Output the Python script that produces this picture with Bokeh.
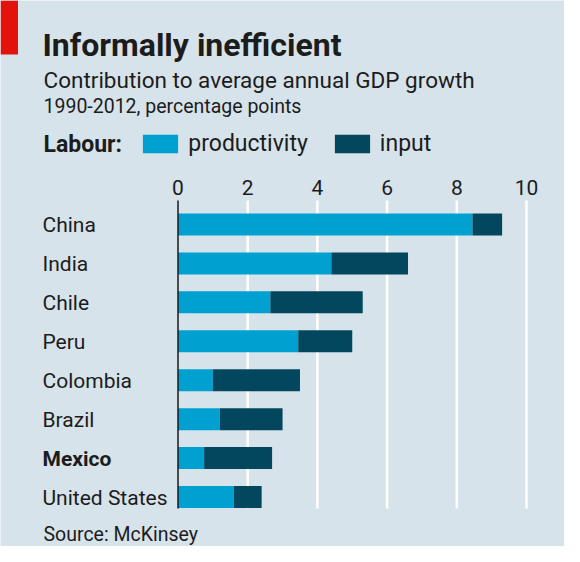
from bokeh.plotting import figure
from bokeh.models import (ColumnDataSource, Range1d, Label, BoxAnnotation, Legend, LegendItem)
from bokeh.core.properties import value
from bokeh.embed import file_html
from bokeh.resources import INLINE

# ---------------- data ----------------
countries = ["China", "India", "Chile", "Peru", "Colombia", "Brazil", "Mexico", "United States"]
productivity = [8.45, 4.4, 2.65, 3.45, 1.0, 1.2, 0.75, 1.6]
labour_input = [0.85, 2.2, 2.65, 1.55, 2.5, 1.8, 1.95, 0.8]
tick_values = [0, 2, 4, 6, 8, 10]
tick_labels = [str(t) for t in tick_values]
highlight_country = "Mexico"
series_names = ["productivity", "input"]

title_text = "Informally inefficient"
subtitle_text = "Contribution to average annual GDP growth"
unit_text = "1990-2012, percentage points"
legend_title = "Labour:"
source_text = "Source: McKinsey"

# ---------------- style / layout ----------------
BG = "#d7e3ea"
C_PROD = "#00a1d0"
C_INP = "#02475e"
TXT = "#1c1c1c"
RED = "#e3120b"
FONT = "Roboto"

W, H = 564, 546
ZERO_PX = 177.5        # canvas x of value 0
PX_PER_UNIT = 34.85
ROW_PX = 38.93
LAST_ROW_PX = 496.5    # canvas y of the last (bottom) row
GRID_TOP_PX = 200
GRID_BOTTOM_PX = 508
LEFT_TEXT = 43


def px_x(px):
    return (px - ZERO_PX) / PX_PER_UNIT


def px_y(py):
    return (LAST_ROW_PX - py) / ROW_PX


n = len(countries)
ypos = [n - 1 - i for i in range(n)]
styles = ["bold" if c == highlight_country else "normal" for c in countries]

src = ColumnDataSource(dict(country=countries, y=ypos, productivity=productivity,
                            input=labour_input, style=styles))

p = figure(width=W, height=H,
           x_range=Range1d(px_x(0), px_x(W)), y_range=Range1d(px_y(H), px_y(0)),
           output_backend="svg", toolbar_location=None,
           x_axis_location=None, y_axis_location=None,
           min_border=0, background_fill_color=BG, border_fill_color=BG,
           outline_line_color=None)
p.xgrid.grid_line_color = None
p.ygrid.grid_line_color = None

# grid lines (white)
grid_src = ColumnDataSource(dict(x=[t for t in tick_values if t > 0]))
p.segment(x0="x", x1="x", y0=px_y(GRID_BOTTOM_PX), y1=px_y(GRID_TOP_PX),
          source=grid_src, line_color="white", line_width=2.5)

# tick labels
p.text(x=tick_values, y=[px_y(186.8)] * len(tick_values), text=tick_labels,
       text_font=value(FONT), text_font_size=value("21px"), text_color=TXT,
       text_align="center", text_baseline="middle")

# bars
rs = p.hbar_stack(["productivity", "input"], y="y", height=0.565,
                  color=[C_PROD, C_INP], line_color=None, source=src)

# zero line
p.segment(x0=[0], x1=[0], y0=[px_y(GRID_BOTTOM_PX)], y1=[px_y(GRID_TOP_PX)],
          line_color="#1a1a1a", line_width=1.5)

# country labels
p.text(x=px_x(LEFT_TEXT - 1), y="y", text="country", source=src,
       text_font=value(FONT), text_font_size=value("21px"), text_font_style="style",
       text_color=TXT, text_baseline="middle", text_align="left", y_offset=1)

# red tab
p.add_layout(BoxAnnotation(left=px_x(0), right=px_x(17.5), top=px_y(0), bottom=px_y(54),
                           fill_color=RED, fill_alpha=1, line_color=None))


def add_label(text, x, y, size, style="normal"):
    p.add_layout(Label(x=px_x(x), y=px_y(y), text=text,
                       text_font=FONT, text_font_size=size, text_font_style=style,
                       text_color=TXT, text_baseline="middle", text_align="left"))


add_label(title_text, LEFT_TEXT - 1, 44.5, "32px", "bold")
add_label(subtitle_text, LEFT_TEXT, 79, "22.5px")
add_label(unit_text, LEFT_TEXT, 105.5, "19.5px")
add_label(legend_title, LEFT_TEXT, 144, "23px", "bold")
add_label(source_text, LEFT_TEXT, 533.5, "19.5px")

# legend
legend = Legend(items=[LegendItem(label=series_names[0], renderers=[rs[0]]),
                       LegendItem(label=series_names[1], renderers=[rs[1]])],
                orientation="horizontal", location=(138.3, H - 157),
                glyph_width=44, glyph_height=23, label_standoff=6, spacing=22,
                padding=0, margin=0, border_line_color=None, background_fill_alpha=0,
                label_text_font=FONT, label_text_font_size="23px",
                label_text_color=TXT, label_height=23)
p.add_layout(legend, "center")

open("out.html", "w").write(file_html(p, INLINE))
